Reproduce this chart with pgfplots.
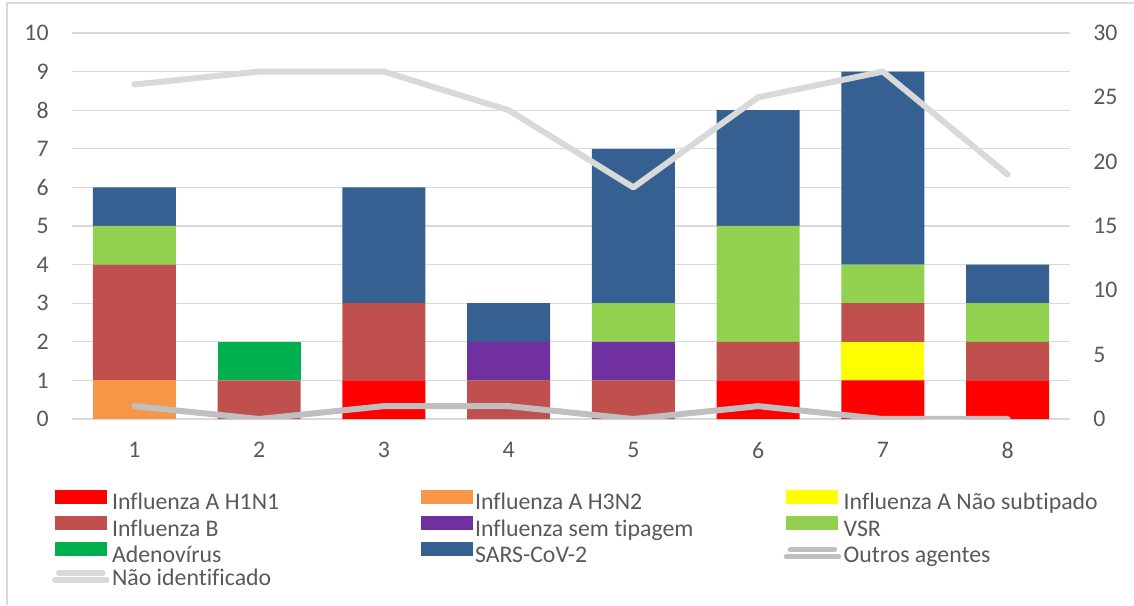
\documentclass[border=0pt]{standalone}
\usepackage{fontspec}
\setmainfont{Carlito}[Ligatures=NoCommon]
\usepackage{pgfplots}
\pgfplotsset{compat=1.18}
\definecolor{h1n1}{HTML}{FF0000}
\definecolor{h3n2}{HTML}{F79646}
\definecolor{nsub}{HTML}{FFFF00}
\definecolor{infb}{HTML}{C0504D}
\definecolor{semtip}{HTML}{7030A0}
\definecolor{vsr}{HTML}{92D050}
\definecolor{adeno}{HTML}{00B050}
\definecolor{sars}{HTML}{376092}
\definecolor{outros}{HTML}{BFBFBF}
\definecolor{naoid}{HTML}{D9D9D9}
\definecolor{txt}{HTML}{595959}
\pgfplotsset{
  barleg/.style={legend image code/.code={\fill[##1,draw=none] (0pt,0pt) rectangle (26pt,7pt);}},
  lineleg/.style={legend image code/.code={\path (0pt,0pt) -- (26pt,0pt);\draw[##1] (2pt,3.4pt) -- (24pt,3.4pt);}},
}
\begin{document}
\fontsize{11.9}{14.2}\selectfont
\begin{tikzpicture}[x=1pt,y=1pt]
\useasboundingbox (0,0) rectangle (567,302.5);
\draw[naoid, line width=0.75pt] (3.5,0) -- (3.5,301) -- (567,301);
\begin{axis}[
  at={(36pt,93pt)}, anchor=south west,
  scale only axis, width=499pt, height=193pt,
  xmin=0.5, xmax=8.5, ymin=0, ymax=10,
  ybar stacked, bar width=0.667,
  xtick={1,...,8}, ytick={0,...,10},
  ymajorgrids, grid style={naoid, line width=0.6pt},
  axis line style={draw=none},
  major tick length=0pt, tick style={draw=none},
  tick label style={text=txt, inner sep=0pt},
  /pgf/number format/assume math mode=true,
  yticklabel style={xshift=-11.5pt},
  xticklabel style={yshift=-11.5pt},
  legend columns=3,
  legend cell align=left,
  legend style={at={(axis description cs:-0.02,-0.183)}, anchor=north west,
    draw=none, fill=none, inner sep=0pt, outer sep=0pt, row sep=0.7pt,
    nodes={inner sep=0pt, text=txt, text height=8.5pt, text depth=2.5pt},
    /tikz/every odd column/.append style={column sep=1.2pt}},
  barleg,
]
\addplot[fill=h1n1, draw=none] coordinates {(1,0)(2,0)(3,1)(4,0)(5,0)(6,1)(7,1)(8,1)};
\addlegendentry{\makebox[154.3pt][l]{Influenza A H1N1}}
\addplot[fill=h3n2, draw=none] coordinates {(1,1)(2,0)(3,0)(4,0)(5,0)(6,0)(7,0)(8,0)};
\addlegendentry{\makebox[154.3pt][l]{Influenza A H3N2}}
\addplot[fill=nsub, draw=none] coordinates {(1,0)(2,0)(3,0)(4,0)(5,0)(6,0)(7,1)(8,0)};
\addlegendentry{Influenza A Não subtipado}
\addplot[fill=infb, draw=none] coordinates {(1,3)(2,1)(3,2)(4,1)(5,1)(6,1)(7,1)(8,1)};
\addlegendentry{\makebox[154.3pt][l]{Influenza B}}
\addplot[fill=semtip, draw=none] coordinates {(1,0)(2,0)(3,0)(4,1)(5,1)(6,0)(7,0)(8,0)};
\addlegendentry{\makebox[154.3pt][l]{Influenza sem tipagem}}
\addplot[fill=vsr, draw=none] coordinates {(1,1)(2,0)(3,0)(4,0)(5,1)(6,3)(7,1)(8,1)};
\addlegendentry{VSR}
\addplot[fill=adeno, draw=none] coordinates {(1,0)(2,1)(3,0)(4,0)(5,0)(6,0)(7,0)(8,0)};
\addlegendentry{\makebox[154.3pt][l]{Adenovírus}}
\addplot[fill=sars, draw=none] coordinates {(1,1)(2,0)(3,3)(4,1)(5,4)(6,3)(7,5)(8,1)};
\addlegendentry{\makebox[154.3pt][l]{SARS-CoV-2}}
\addlegendimage{lineleg, outros, line width=2.8pt, line cap=round}
\addlegendentry{Outros agentes}
\addlegendimage{lineleg, naoid, line width=2.8pt, line cap=round}
\addlegendentry{\makebox[154.3pt][l]{Não identificado}}
\end{axis}
\begin{axis}[
  at={(36pt,93pt)}, anchor=south west,
  scale only axis, width=499pt, height=193pt,
  xmin=0.5, xmax=8.5, ymin=0, ymax=30,
  hide x axis,
  axis y line*=right,
  axis line style={draw=none},
  ytick={0,5,...,30},
  major tick length=0pt, tick style={draw=none},
  tick label style={text=txt, inner sep=0pt},
  /pgf/number format/assume math mode=true,
  yticklabel style={xshift=11.5pt},
]
\addplot[outros, line width=3pt, line join=round, line cap=round] coordinates {(1,1)(2,0)(3,1)(4,1)(5,0)(6,1)(7,0)(8,0)};
\addplot[naoid, line width=3pt, line join=round, line cap=round] coordinates {(1,26)(2,27)(3,27)(4,24)(5,18)(6,25)(7,27)(8,19)};
\end{axis}
\end{tikzpicture}
\end{document}
